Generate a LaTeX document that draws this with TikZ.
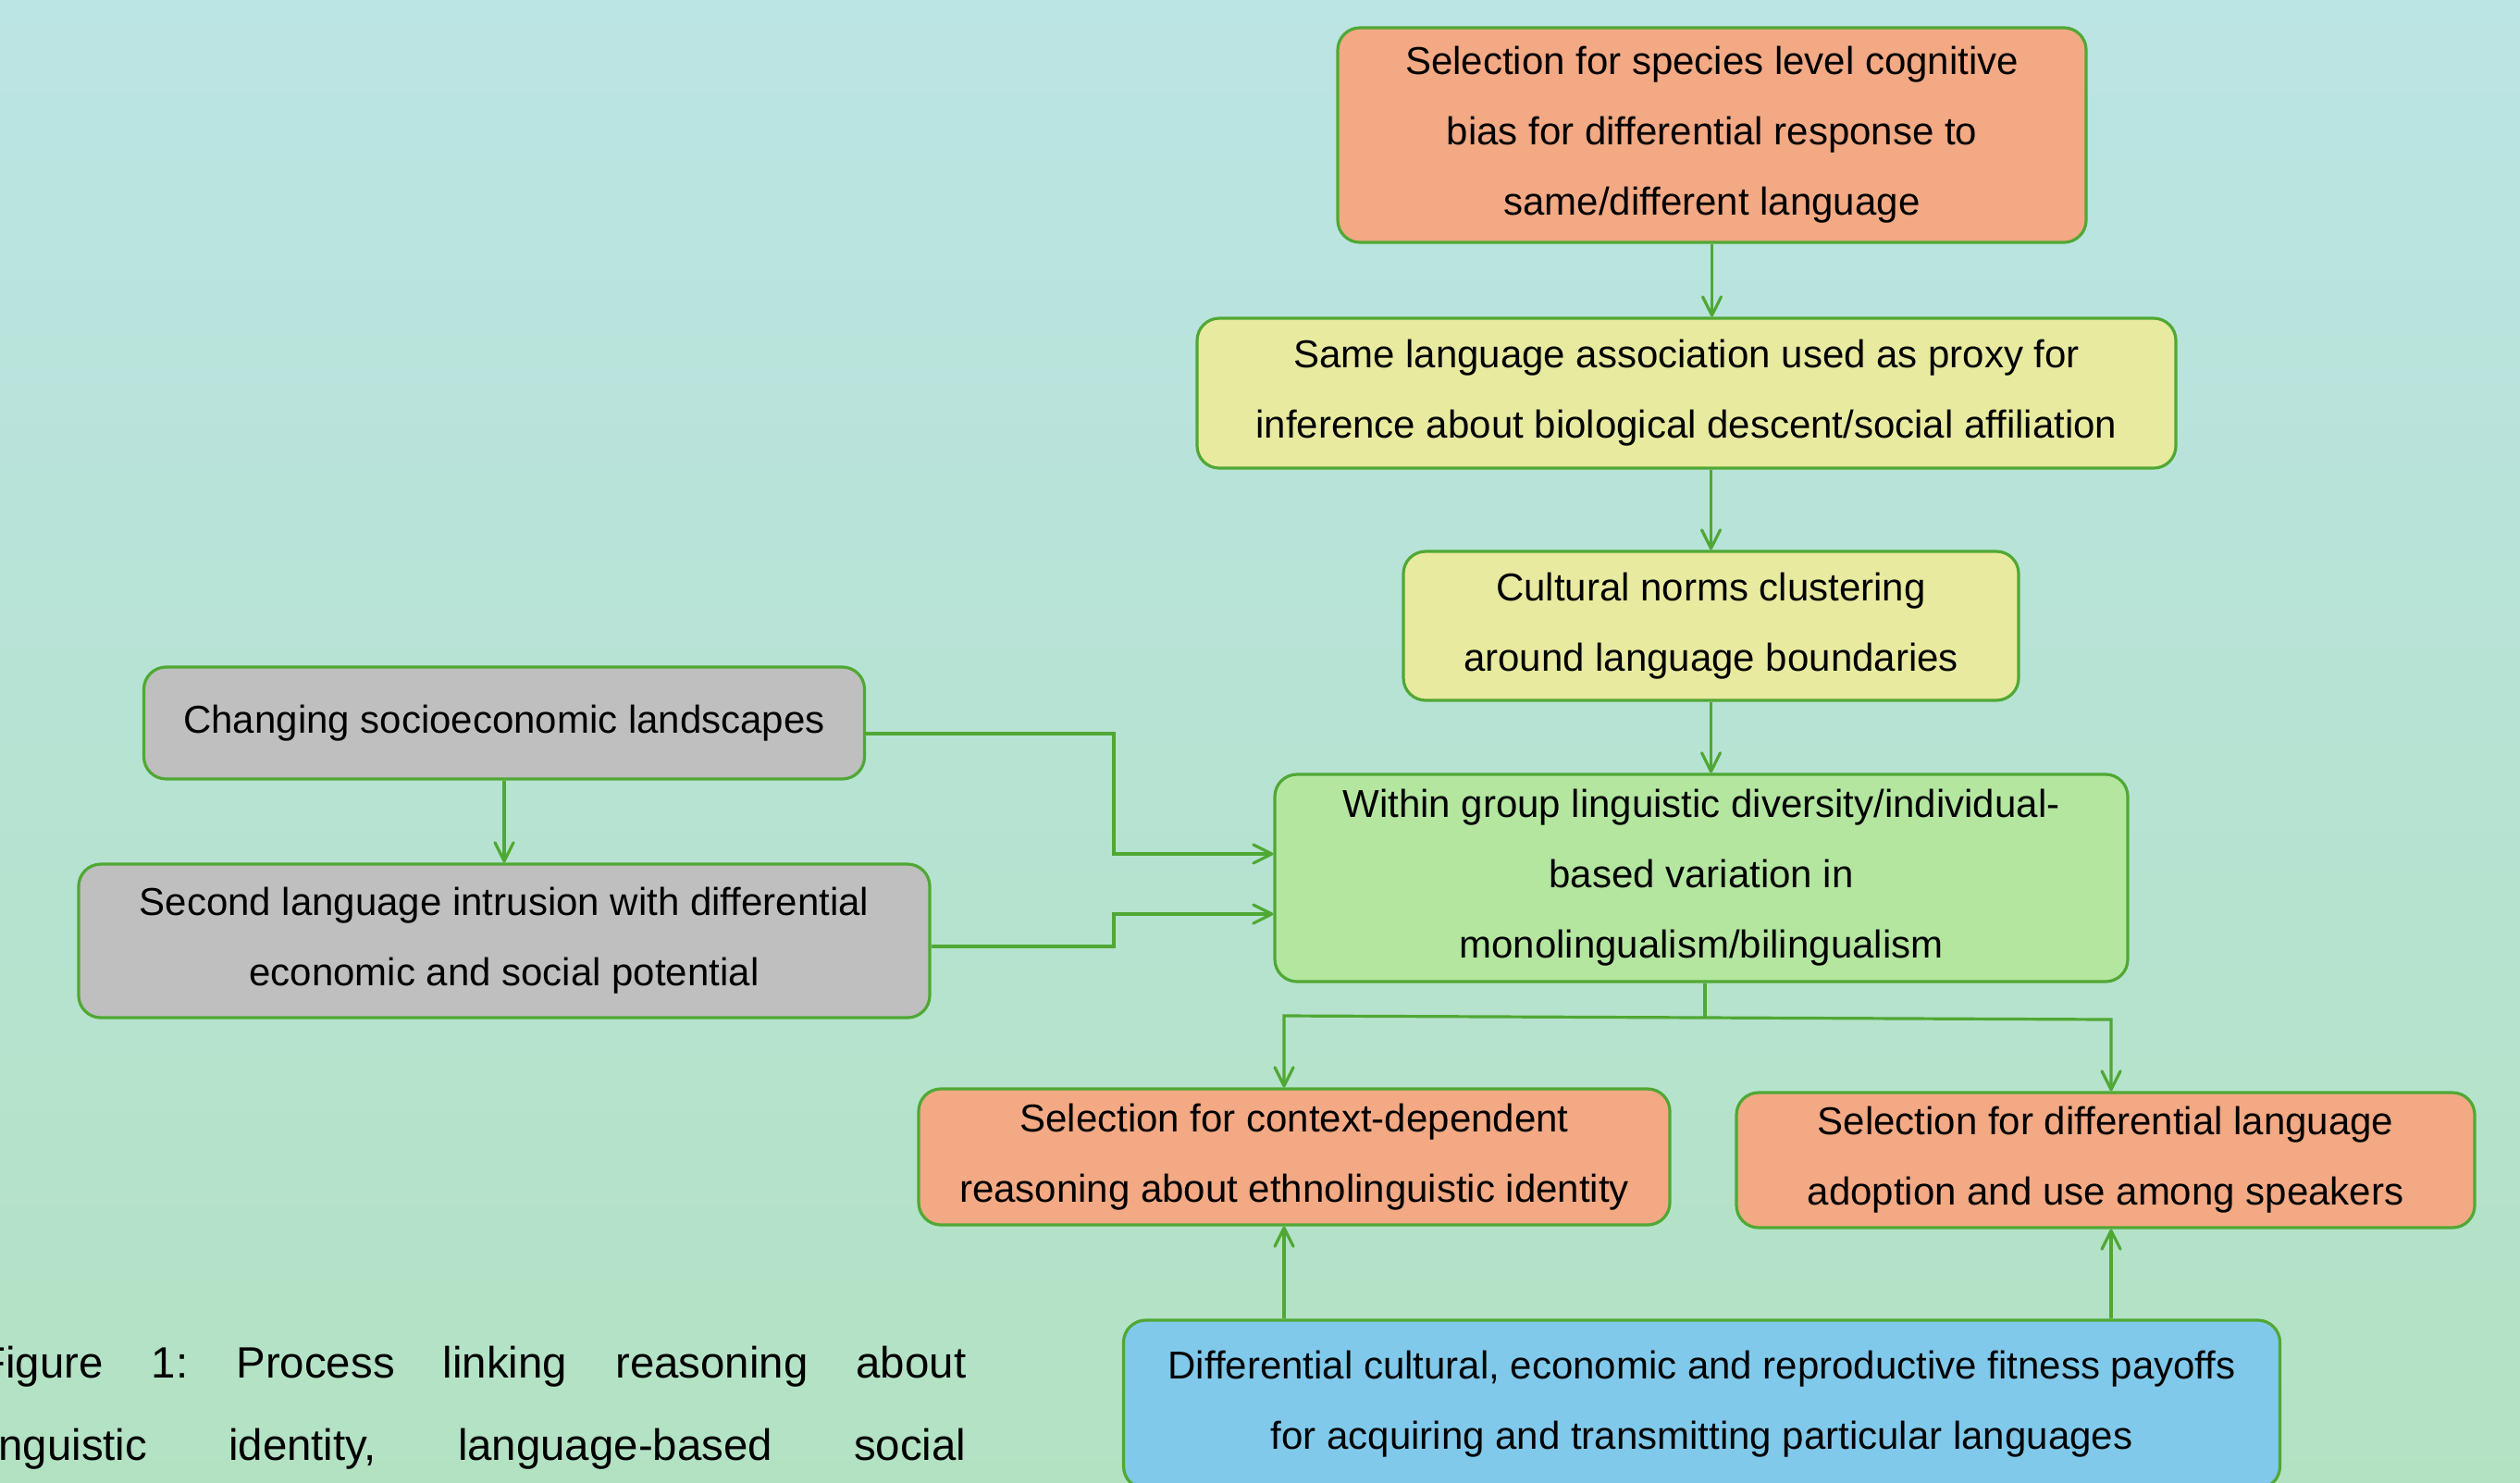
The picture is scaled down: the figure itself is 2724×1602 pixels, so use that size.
\documentclass[tikz,border=0pt]{standalone}
\usepackage{fontspec}
\setmainfont{Liberation Sans}
\usetikzlibrary{arrows.meta}
\definecolor{bgtop}{RGB}{187,228,228}
\definecolor{bgbot}{RGB}{179,226,195}
\definecolor{edgegreen}{RGB}{80,168,52}
\definecolor{salmon}{RGB}{242,169,132}
\definecolor{paleyellow}{RGB}{232,234,160}
\definecolor{palegreen}{RGB}{180,230,160}
\definecolor{greybox}{RGB}{191,191,191}
\definecolor{bluebox}{RGB}{128,201,235}
\frenchspacing
\begin{document}
\begin{tikzpicture}[x=0.5pt,y=-0.5pt,
  box/.style={draw=edgegreen, line width=1.6pt, rounded corners=12pt, inner sep=0pt,
    align=center, font=\fontsize{21}{38}\selectfont, text=black},
  arr/.style={draw=edgegreen, line width=1.6pt,
    -{Straight Barb[length=10pt,width=10pt,line width=1.6pt,round]}},
  conn/.style={draw=edgegreen, line width=1.6pt},
  captext/.style={font=\fontsize{23.7}{43}\selectfont, inner sep=0pt, anchor=base west, text=black}]
\useasboundingbox (0,0) rectangle (2724,1602);
\clip (0,0) rectangle (2724,1602);
\shade[top color=bgtop, bottom color=bgbot] (0,0) rectangle (2724,1602);

\node[box, fill=salmon, minimum width=404.5pt, minimum height=116pt] (top) at (1850.5,146)
  {Selection for species level cognitive\\bias for differential response to\\same/different language};
\node[box, fill=paleyellow, minimum width=529pt, minimum height=81pt] (yellow) at (1823,425)
  {Same language association used as proxy for\\inference about biological descent/social affiliation};
\node[box, fill=paleyellow, minimum width=332.5pt, minimum height=80.5pt] (cult) at (1849.5,676.5)
  {Cultural norms clustering\\around language boundaries};
\node[box, fill=palegreen, minimum width=461pt, minimum height=112pt] (within) at (1839,949)
  {Within group linguistic diversity/individual-\\based variation in\\monolingualism/bilingualism};
\node[box, fill=greybox, minimum width=389.5pt, minimum height=60.5pt] (chg) at (545,781.5)
  {Changing socioeconomic landscapes};
\node[box, fill=greybox, minimum width=460pt, minimum height=83pt] (second) at (545,1017)
  {Second language intrusion with differential\\economic and social potential};
\node[box, fill=salmon, minimum width=406pt, minimum height=73.5pt] (context) at (1399,1250.5)
  {Selection for context-dependent\\reasoning about ethnolinguistic identity};
\node[box, fill=salmon, minimum width=399pt, minimum height=73pt] (diff) at (2276,1254)
  {Selection for differential language\\adoption and use among speakers};
\node[box, fill=bluebox, minimum width=625pt, minimum height=91pt] (blue) at (1839.5,1518)
  {Differential cultural, economic and reproductive fitness payoffs\\for acquiring and transmitting particular languages};

% vertical chain
\draw[arr] (top.south) -- (top.south |- yellow.north);
\draw[arr] (cult.north |- yellow.south) -- (cult.north);
\draw[arr] (cult.south) -- (cult.south |- within.north);

% left side
\draw[arr] (chg.south) -- (second.north);
\coordinate (j1) at (1204,793);
\coordinate (j2) at (1204,923);
\draw[arr] (j1 -| chg.east) -- (j1) -- (j2) -- (j2 -| within.west);
\coordinate (k1) at (1204,1023);
\coordinate (k2) at (1204,988);
\draw[arr] (k1 -| second.east) -- (k1) -- (k2) -- (k2 -| within.west);

% split below within
\coordinate (s) at (1843,1100);
\coordinate (sl) at (1388,1098);
\coordinate (sr) at (2282,1102);
\draw[conn] (s |- within.south) -- (s);
\draw[arr] (s) -- (sl) -- (sl |- context.north);
\draw[arr] (s) -- (sr) -- (sr |- diff.north);

% from blue box up
\draw[arr] (sl |- blue.north) -- (sl |- context.south);
\draw[arr] (sr |- blue.north) -- (sr |- diff.south);

% caption
\node[captext] (cap1) at (-23,1489) {\makebox[533.5pt][s]{Figure 1: Process linking reasoning about}};
\node[captext] (cap2) at (-23,1578) {\makebox[533.5pt][s]{linguistic identity, language-based social}};
\end{tikzpicture}
\end{document}
